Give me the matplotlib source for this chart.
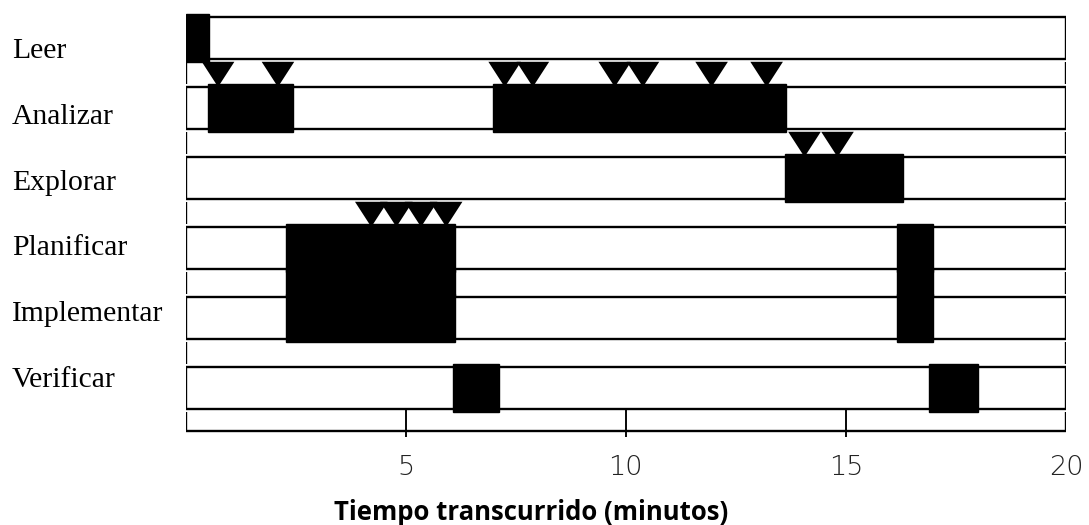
"""Timeline of problem-solving episodes (Schoenfeld-style chart)"""

import matplotlib.pyplot as plt
from matplotlib.patches import Rectangle

# Episode names, top to bottom
episodes = ['Leer', 'Analizar', 'Explorar', 'Planificar', 'Implementar', 'Verificar']

# Active intervals (minutes) for each episode
intervals = [
    [(0.0, 0.53)],
    [(0.51, 2.44), (6.98, 13.63)],
    [(13.61, 16.29)],
    [(2.28, 6.12), (16.15, 16.97)],
    [(2.28, 6.12), (16.15, 16.97)],
    [(6.07, 7.12), (16.88, 18.0)],
]

# Triangle markers (minutes) shown above each episode row
markers = [
    [],
    [0.74, 2.10, 7.25, 7.89, 9.75, 10.39, 11.95, 13.2],
    [14.06, 14.81],
    [4.22, 4.79, 5.35, 5.92],
    [],
    [],
]

tick_values = [5, 10, 15, 20]
tick_labels = ['5', '10', '15', '20']
x_max = 20
x_title = 'Tiempo transcurrido (minutos)'

# layout (row units: one row = box + gap)
box_h = 0.6
gap = 1 - box_h
over = 0.045
bottom = len(episodes) - 1 + box_h + 0.315
lw = 1.7

fig = plt.figure(figsize=(10.89, 5.25), dpi=100)
ax = fig.add_axes([185.5 / 1089, (525 - 431) / 525, (1066 - 185.5) / 1089, (431 - 10) / 525])
ax.set_xlim(0, x_max)
ax.set_ylim(bottom, -0.1)
ax.axis('off')

for i, name in enumerate(episodes):
    # row box
    ax.add_patch(Rectangle((0, i), x_max, box_h, facecolor='white',
                           edgecolor='black', lw=lw, zorder=1))
    # side lines in the gap under the row
    y0 = i + box_h + 0.04
    y1 = i + 1 - 0.04 if i < len(episodes) - 1 else bottom
    ax.vlines([0, x_max], y0, y1, color='black', lw=lw, zorder=1)

    # black blocks
    for s, e in intervals[i]:
        ax.add_patch(Rectangle((s, i - over), e - s, box_h + 2 * over,
                               facecolor='black', edgecolor='black', lw=1, zorder=3))
        # join with the next row when the same interval continues
        if i + 1 < len(episodes) and (s, e) in intervals[i + 1]:
            ax.add_patch(Rectangle((s, i + box_h), e - s, gap,
                                   facecolor='black', edgecolor='black', lw=1, zorder=3))

    # downward triangles in the gap above the row
    for m in markers[i]:
        ax.fill([m - 0.37, m + 0.37, m], [i - gap + 0.04, i - gap + 0.04, i],
                color='black', lw=0, zorder=4)

    fig.text(12 / 1089, 1 - (58 + 65.8 * i) / 525, name, family='Liberation Serif',
             fontsize=21.3, va='baseline', ha='left')

# bottom line and ticks
ax.hlines(bottom, 0, x_max, color='black', lw=lw, clip_on=False)
ax.vlines([t for t in tick_values if t < x_max], len(episodes) - 1 + box_h, bottom + 0.09,
          color='black', lw=lw * 0.8, clip_on=False)

for t, lab in zip(tick_values, tick_labels):
    ax.text(t, bottom + 0.52, lab, ha='center', va='center', fontsize=19.5,
            fontweight='light', color='#222222', clip_on=False)

fig.text(531 / 1089, 1 - 513 / 525, x_title, ha='center', va='center',
         fontsize=18.5, fontweight='bold', family='Open Sans')

plt.savefig('out.png', dpi=100)
